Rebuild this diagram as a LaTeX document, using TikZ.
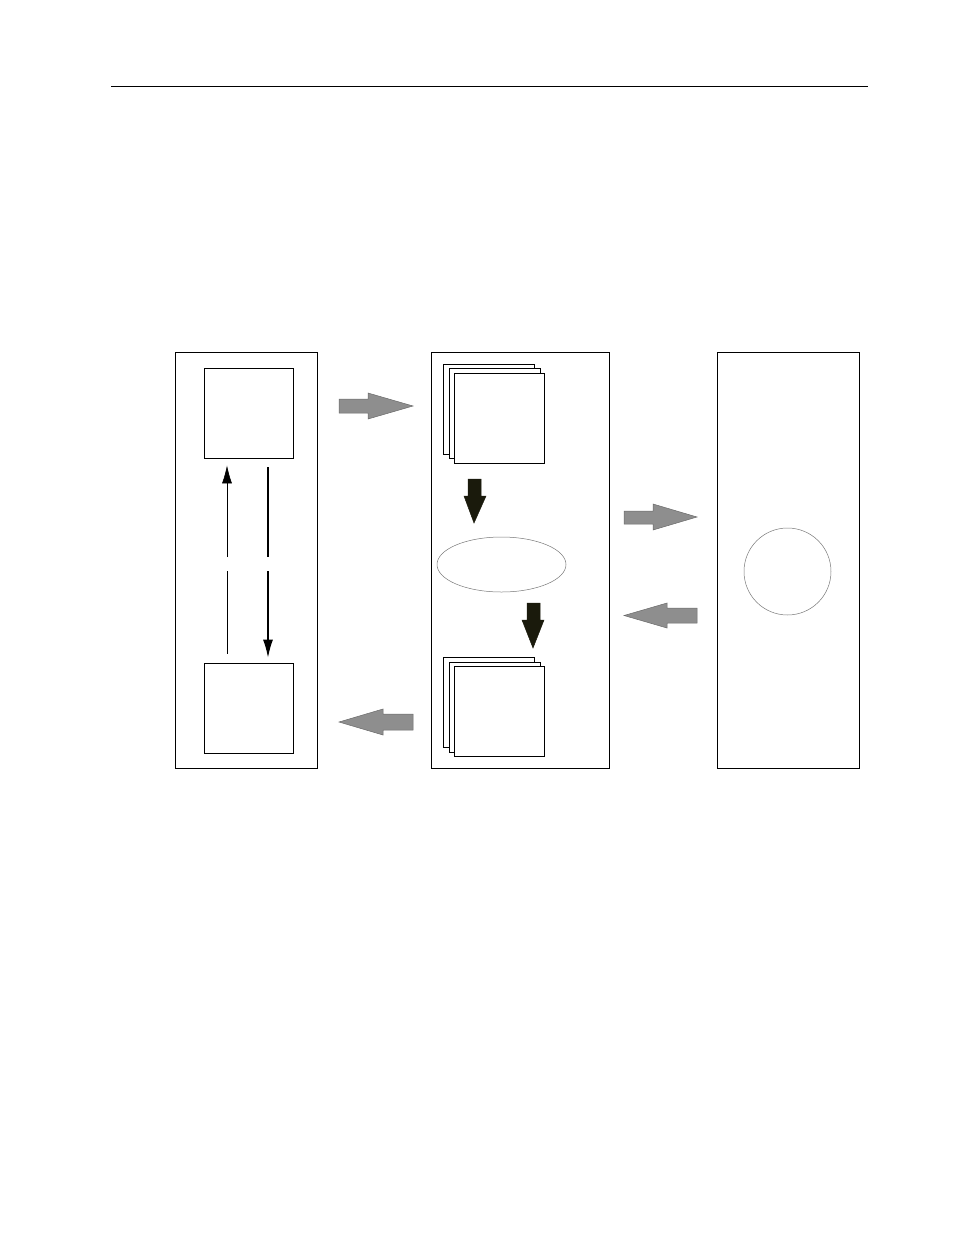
\documentclass[tikz,border=0pt]{standalone}
\usepackage{tikz}
\usetikzlibrary{arrows.meta,shapes.geometric}

\definecolor{arrowgray}{HTML}{8E8E8E}
\definecolor{arrowedge}{HTML}{6A6A6A}
\definecolor{arrowdark}{HTML}{1A1A0C}
\definecolor{thingray}{HTML}{777777}

\tikzset{
	panel/.style={draw,line width=0.9pt,inner sep=0pt,minimum height=416pt},
	sqbox/.style={draw,fill=white,line width=0.8pt,inner sep=0pt,minimum width=89pt,minimum height=90pt},
	grayarrow/.style={fill=arrowgray,draw=arrowedge,line width=0.5pt},
	darkarrow/.style={fill=arrowdark,draw=arrowdark,line width=0.5pt},
	flow/.style={line width=0.8pt,-{Latex[length=18pt,width=10pt]}},
}

\begin{document}
\begin{tikzpicture}[x=1pt,y=-1pt]
		\useasboundingbox (0,0) rectangle (954,1235);
		\draw[line width=1pt] (111,86) -- (868,86);

		% three panels
		\node[panel,minimum width=142pt] (leftpanel) at (246,560) {};
		\node[panel,minimum width=178pt] (midpanel) at (520,560) {};
		\node[panel,minimum width=142pt] (rightpanel) at (788,560) {};

		% left panel
		\node[sqbox] (topsq) at (248.5,413) {};
		\node[sqbox] (botsq) at (248.5,708) {};
		\coordinate (upgaplo) at (227,571);
		\coordinate (upgaphi) at (227,557);
		\coordinate (dngaphi) at (268,557);
		\coordinate (dngaplo) at (268,571);
		\draw[line width=0.6pt] ([xshift=-21.5pt,yshift=9pt]botsq.north) -- (upgaplo);
		\draw[flow,line width=0.6pt] (upgaphi) -- ([xshift=-21.5pt,yshift=-7pt]topsq.south);
		\draw[line width=1.3pt] ([xshift=19.5pt,yshift=-9pt]topsq.south) -- (dngaphi);
		\draw[flow,line width=1.3pt] (dngaplo) -- ([xshift=19.5pt,yshift=5pt]botsq.north);

		% middle panel
		\node[sqbox,minimum width=91pt] (topback) at (488.5,409) {};
		\node[sqbox,minimum width=91pt] (topmid) at (494.5,413) {};
		\node[sqbox,minimum width=90pt] (topfront) at (499,418) {};
		\node[sqbox,minimum width=91pt] (botback) at (488.5,702.5) {};
		\node[sqbox,minimum width=91pt] (botmid) at (494.5,707) {};
		\node[sqbox,minimum width=90pt] (botfront) at (499,711.5) {};
		\node[ellipse,draw=thingray,line width=0.5pt,inner sep=0pt,minimum width=129pt,minimum height=55pt] (oval) at (501.5,564.5) {};

		\draw[darkarrow] (468,479) -- (481,479) -- (481,496) -- (486,496) -- (474,523) -- (464,496) -- (468,496) -- cycle;
		\draw[darkarrow] (527,603) -- (540,603) -- (540,620) -- (544,620) -- (533,648) -- (522,620) -- (527,620) -- cycle;

		% right panel
		\node[circle,draw=thingray,line width=0.5pt,inner sep=0pt,minimum size=87pt] (disc) at (787.5,571.5) {};

		% gray arrows between panels
		\draw[grayarrow] (339,399) -- (368,399) -- (368,393) -- (413,406) -- (368,419) -- (368,413) -- (339,413) -- cycle;
		\draw[grayarrow] (413,714) -- (383,714) -- (383,709) -- (339,722) -- (383,735) -- (383,730) -- (413,730) -- cycle;
		\draw[grayarrow] (624,511) -- (653,511) -- (653,504) -- (697,517) -- (653,530) -- (653,524) -- (624,524) -- cycle;
		\draw[grayarrow] (697,608) -- (667,608) -- (667,603) -- (624,615.5) -- (667,628) -- (667,623) -- (697,623) -- cycle;
	\end{tikzpicture}
\end{document}
